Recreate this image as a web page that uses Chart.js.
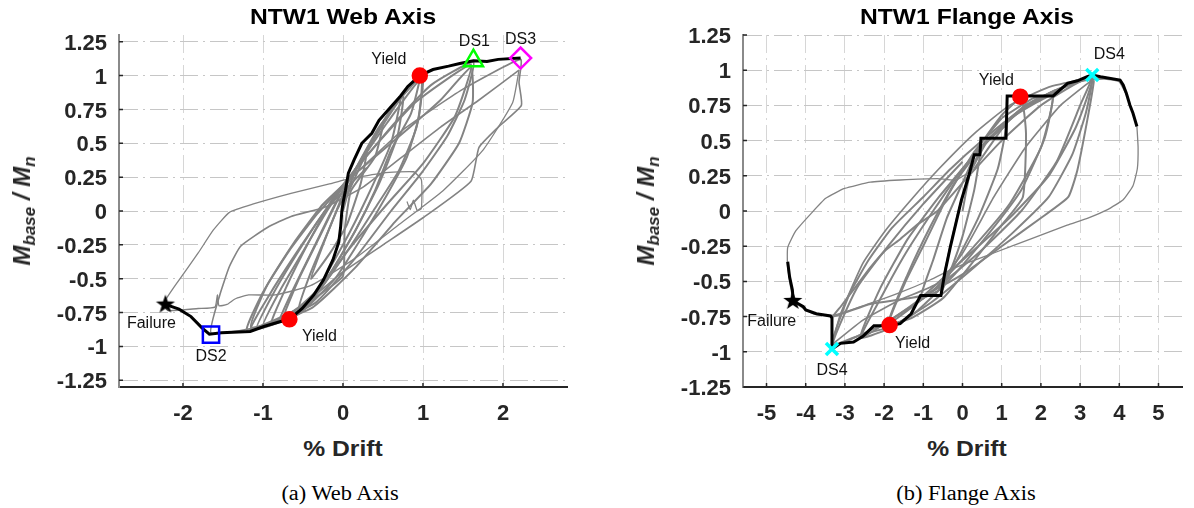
<!DOCTYPE html>
<html lang="en">
<head>
  <meta charset="UTF-8" />
  <title>NTW1 Moment - Drift Hysteresis</title>
  <style>
    body { margin: 0; background: #fff; }
    #figure { position: relative; width: 1194px; height: 508px; overflow: hidden;
      font-family: 'Liberation Sans', Arial, sans-serif; color: #000; }
    #figure canvas { position: absolute; top: 0; }
    .title, .xlabel { position: absolute; font-weight: bold; font-size: 22px; white-space: nowrap;
      transform: translateX(-50%) scaleX(1.12); }
    .title { top: 4px; }
    .xlabel { top: 436px; color: #262626; }
    .ylabel { position: absolute; top: 211px; font-weight: bold; font-style: italic; font-size: 24px;
      line-height: 1; white-space: nowrap; color: #262626;
      transform: translate(-50%, -50%) rotate(-90deg); }
    .ylabel sub { font-size: 17px; vertical-align: -5px; }
    .caption { position: absolute; top: 482px; font-family: 'Liberation Serif', 'Times New Roman', serif;
      font-size: 20px; white-space: nowrap; transform: translateX(-50%) scaleX(1.12); }
  </style>
</head>
<body>
  <div id="figure">
    <canvas id="webChart" width="597" height="430" style="left:0"></canvas>
    <canvas id="flangeChart" width="597" height="430" style="left:597px"></canvas>

    <div class="title" style="left:343px">NTW1 Web Axis</div>
    <div class="title" style="left:967px">NTW1 Flange Axis</div>
    <div class="ylabel" style="left:24px">M<sub>base</sub> / M<sub>n</sub></div>
    <div class="ylabel" style="left:648px">M<sub>base</sub> / M<sub>n</sub></div>
    <div class="xlabel" style="left:343px">% Drift</div>
    <div class="xlabel" style="left:967px">% Drift</div>
    <div class="caption" style="left:340px">(a) Web Axis</div>
    <div class="caption" style="left:966px">(b) Flange Axis</div>
  </div>

  <script src="https://cdn.jsdelivr.net/npm/chart.js@4.4.1/dist/chart.umd.min.js"></script>
  <script>
    // ---- axis ticks ----
    const momentTicks = [-1.25, -1, -0.75, -0.5, -0.25, 0, 0.25, 0.5, 0.75, 1, 1.25];
    const webDriftTicks = [-2, -1, 0, 1, 2];
    const flangeDriftTicks = [-5, -4, -3, -2, -1, 0, 1, 2, 3, 4, 5];

    // ---- web axis: backbone (black) ----
    const webBackbone = [
      [-2.24, -0.686], [-2.05, -0.725], [-1.90, -0.78], [-1.76, -0.865], [-1.67, -0.91],
      [-1.52, -0.90], [-1.16, -0.89], [-0.99, -0.853], [-0.80, -0.82], [-0.67, -0.80],
      [-0.51, -0.72], [-0.365, -0.62], [-0.245, -0.51], [-0.125, -0.36], [-0.053, -0.23],
      [-0.03, -0.12], [-0.014, 0.0], [0.0, 0.06], [0.03, 0.15], [0.067, 0.28], [0.14, 0.38],
      [0.235, 0.50], [0.36, 0.574], [0.45, 0.67], [0.60, 0.77], [0.72, 0.85], [0.81, 0.92],
      [0.96, 1.00], [1.125, 1.045], [1.32, 1.07], [1.46, 1.09], [1.63, 1.11], [1.80, 1.105],
      [1.94, 1.12], [2.22, 1.13]
    ];

    // ---- web axis: test cycles (grey) ----
    const webCycle1 = [[0.00, 0.00], [0.12, 0.25], [0.30, 0.45], [0.22, 0.20], [0.05, -0.10], [-0.15, -0.30],
      [-0.40, -0.50], [-0.25, -0.25], [-0.08, 0.00], [0.05, 0.15]];
    const webCycle2 = [[0.05, 0.15], [0.20, 0.35], [0.50, 0.65], [0.40, 0.40], [0.10, 0.15], [0.02, -0.15],
      [0.00, -0.48], [-0.25, -0.60], [-0.55, -0.72], [-0.40, -0.45], [-0.15, -0.10], [0.05, 0.20]];
    const webCycle3 = [[0.05, 0.20], [0.30, 0.45], [0.75, 0.85], [0.68, 0.55], [0.45, 0.20], [0.15, -0.15],
      [-0.20, -0.50], [-0.50, -0.72], [-0.80, -0.82], [-0.60, -0.55], [-0.35, -0.25], [-0.10, 0.05], [0.10, 0.25]];
    const webCycle4 = [[0.10, 0.25], [0.45, 0.62], [0.96, 1.00], [0.85, 0.72], [0.60, 0.45], [0.40, 0.15],
      [0.15, -0.15], [-0.15, -0.45], [-0.50, -0.72], [-1.00, -0.85], [-0.78, -0.58], [-0.50, -0.30],
      [-0.20, 0.00], [0.12, 0.28]];
    const webCycle5 = [[0.12, 0.28], [0.55, 0.65], [0.98, 0.98], [0.95, 0.70], [0.80, 0.40], [0.55, 0.12],
      [0.25, -0.18], [-0.10, -0.50], [-0.55, -0.76], [-1.08, -0.87], [-0.88, -0.62], [-0.58, -0.32],
      [-0.25, -0.02], [0.15, 0.30]];
    const webCycle6 = [[0.15, 0.30], [0.60, 0.62], [1.10, 0.93], [1.63, 1.10], [1.52, 0.82], [1.30, 0.55],
      [0.98, 0.28], [0.60, 0.00], [0.15, -0.35], [-0.35, -0.68], [-1.20, -0.88], [-1.00, -0.60],
      [-0.68, -0.30], [-0.32, -0.02], [0.10, 0.25]];
    const webCycle7 = [[0.10, 0.25], [0.74, 0.57], [1.22, 0.82], [1.60, 1.06], [1.62, 0.80], [1.45, 0.50],
      [1.10, 0.20], [0.65, -0.08], [0.15, -0.42], [-0.40, -0.72], [-1.15, -0.86], [-0.95, -0.55],
      [-0.62, -0.24], [-0.25, 0.05], [0.20, 0.30]];
    const webCycle8 = [[0.20, 0.30], [0.75, 0.60], [1.50, 0.90], [2.22, 1.12], [2.20, 0.95], [2.23, 0.78],
      [1.94, 0.62], [1.70, 0.47], [1.60, 0.22], [1.00, -0.05], [0.50, -0.25], [0.00, -0.45], [-0.56, -0.72],
      [-1.10, -0.86], [-1.65, -0.90], [-1.54, -0.62], [-1.42, -0.41], [-1.28, -0.26], [-0.94, -0.12],
      [-0.65, -0.04], [-0.22, 0.03], [0.26, 0.18], [0.74, 0.40], [1.22, 0.62], [1.70, 0.82], [2.20, 1.04]];
    const webCycle9 = [[2.20, 1.04], [2.12, 0.80], [1.75, 0.45], [1.25, 0.15], [0.70, -0.10], [0.15, -0.35],
      [-0.40, -0.55], [-0.85, -0.62], [-1.18, -0.62], [-1.35, -0.65], [-1.45, -0.69], [-1.55, -0.70],
      [-1.57, -0.62], [-1.60, -0.71], [-1.81, -0.72], [-2.19, -0.735], [-2.24, -0.68], [-2.05, -0.51],
      [-1.81, -0.31], [-1.62, -0.14], [-1.42, -0.01], [-1.13, 0.05], [-0.65, 0.13], [-0.17, 0.20],
      [0.02, 0.23], [0.50, 0.28], [0.88, 0.29], [0.98, 0.23], [0.98, 0.02], [0.93, 0.00], [0.88, 0.08],
      [0.84, 0.01], [0.80, 0.07]];
    const webCycle10 = [[0.00, 0.05], [0.35, 0.50], [0.72, 0.85], [0.60, 0.50], [0.30, 0.10], [0.00, -0.25],
      [-0.35, -0.60], [-0.75, -0.80], [-0.55, -0.50], [-0.30, -0.20], [-0.05, 0.10], [0.20, 0.35]];
    const webCycle11 = [[0.20, 0.35], [0.60, 0.75], [1.00, 1.00], [0.92, 0.62], [0.70, 0.30], [0.40, 0.02],
      [0.05, -0.30], [-0.35, -0.62], [-0.90, -0.84], [-0.70, -0.55], [-0.42, -0.22], [-0.12, 0.10], [0.25, 0.38]];
    const webCycle12 = [[0.25, 0.38], [0.90, 0.80], [1.60, 1.08], [1.40, 0.70], [1.00, 0.35], [0.55, 0.05],
      [0.05, -0.30], [-0.45, -0.70], [-1.15, -0.87], [-0.90, -0.60], [-0.55, -0.28], [-0.20, 0.02], [0.30, 0.32]];

    // ---- web axis: damage states ----
    const webYield = [[0.96, 1.00], [-0.67, -0.80]];
    const webDS1 = [[1.63, 1.11]];
    const webDS2 = [[-1.65, -0.913]];
    const webDS3 = [[2.22, 1.13]];
    const webFailure = [[-2.22, -0.684]];

    // ---- flange axis: backbone (black) ----
    const flangeBackbone = [
      [-4.46, -0.36], [-4.41, -0.47], [-4.34, -0.56], [-4.32, -0.634], [-4.20, -0.657], [-4.06, -0.68],
      [-4.00, -0.703], [-3.73, -0.73], [-3.37, -0.745], [-3.33, -0.76], [-3.33, -0.95], [-3.33, -0.98],
      [-3.11, -0.94], [-2.78, -0.93], [-2.54, -0.89], [-2.26, -0.815], [-1.88, -0.815], [-1.59, -0.80],
      [-1.31, -0.73], [-1.07, -0.60], [-0.55, -0.60], [-0.455, -0.445], [-0.31, -0.255], [-0.17, -0.09],
      [-0.03, 0.076], [0.16, 0.25], [0.30, 0.40], [0.445, 0.40], [0.47, 0.516], [1.11, 0.516],
      [1.14, 0.817], [1.49, 0.817], [2.31, 0.817], [2.68, 0.907], [2.93, 0.925], [3.18, 0.954],
      [3.31, 0.966], [3.52, 0.954], [4.02, 0.93], [4.10, 0.895], [4.18, 0.836], [4.27, 0.753],
      [4.35, 0.694], [4.45, 0.60]
    ];

    // ---- flange axis: test cycles (grey) ----
    const flangeCycle1 = [[0.00, 0.00], [0.20, 0.28], [0.45, 0.42], [0.30, 0.15], [0.00, -0.18], [-0.30, -0.42],
      [-0.55, -0.58], [-0.35, -0.30], [-0.10, 0.00], [0.15, 0.25]];
    const flangeCycle2 = [[0.15, 0.25], [0.60, 0.48], [1.10, 0.60], [0.90, 0.30], [0.40, -0.05], [-0.20, -0.38],
      [-0.60, -0.56], [-1.07, -0.62], [-0.75, -0.35], [-0.40, -0.05], [0.00, 0.20], [0.40, 0.45]];
    const flangeCycle3 = [[0.40, 0.45], [1.00, 0.68], [1.50, 0.80], [1.62, 0.55], [1.54, 0.10], [1.00, -0.10],
      [0.30, -0.35], [-0.50, -0.62], [-1.30, -0.76], [-1.88, -0.80], [-1.45, -0.50], [-0.95, -0.22],
      [-0.35, 0.12], [0.30, 0.42], [1.00, 0.66]];
    const flangeCycle4 = [[1.00, 0.66], [1.80, 0.80], [2.30, 0.82], [2.10, 0.52], [1.50, 0.15], [0.70, -0.15],
      [-0.20, -0.45], [-1.20, -0.72], [-2.00, -0.85], [-2.60, -0.90], [-2.05, -0.60], [-1.45, -0.30],
      [-0.75, 0.00], [0.00, 0.30], [0.80, 0.55], [1.60, 0.75], [2.40, 0.86]];
    const flangeCycle5 = [[2.40, 0.86], [2.90, 0.91], [3.32, 0.96], [3.15, 0.70], [2.80, 0.40], [2.20, 0.10],
      [1.30, -0.15], [0.30, -0.40], [-0.80, -0.65], [-1.80, -0.82], [-2.60, -0.88], [-3.33, -0.95],
      [-2.90, -0.60], [-2.40, -0.35], [-1.80, -0.12], [-1.00, 0.10], [-0.30, 0.30], [0.50, 0.50],
      [1.40, 0.70], [2.30, 0.85], [3.30, 0.95]];
    const flangeCycle6 = [[3.30, 0.95], [3.35, 0.92], [3.18, 0.64], [2.93, 0.29], [2.70, 0.10], [2.00, -0.05],
      [1.00, -0.25], [0.00, -0.45], [-1.00, -0.60], [-2.35, -0.66], [-3.30, -0.75], [-3.11, -0.68],
      [-2.73, -0.54], [-2.35, -0.40], [-1.97, -0.28], [-1.59, -0.20], [-1.12, -0.09], [-0.64, 0.00],
      [0.00, 0.20], [1.00, 0.50], [2.00, 0.75], [3.00, 0.92], [3.60, 0.94], [4.00, 0.92], [4.20, 0.82]];
    const flangeCycle7 = [[-3.33, -0.95], [-2.54, -0.775], [-1.59, -0.63], [-0.64, -0.515], [0.00, -0.30],
      [0.80, 0.10], [1.60, 0.45], [2.50, 0.75], [3.30, 0.93]];
    const flangeCycle8 = [[-3.33, -0.95], [-3.11, -0.73], [-2.54, -0.37], [-1.97, -0.14], [-1.31, 0.08],
      [-0.60, 0.30], [0.30, 0.55], [1.20, 0.75], [2.20, 0.88], [3.30, 0.95]];
    const flangeCycle9 = [[4.45, 0.60], [4.48, 0.45], [4.46, 0.30], [4.35, 0.18], [4.10, 0.08], [3.70, 0.01],
      [3.20, -0.05], [2.67, -0.10], [1.73, -0.20], [0.78, -0.30], [-0.17, -0.40], [-0.83, -0.49],
      [-1.60, -0.58], [-2.40, -0.66], [-3.30, -0.74], [-3.80, -0.73], [-4.30, -0.64], [-4.46, -0.40],
      [-4.46, -0.26], [-4.25, -0.14], [-3.87, -0.02], [-3.49, 0.09], [-3.01, 0.16], [-2.35, 0.205],
      [-1.59, 0.22], [-0.64, 0.23], [-0.17, 0.22], [0.30, 0.30]];
    const flangeCycle10 = [[0.30, 0.30], [1.20, 0.65], [2.30, 0.82], [2.00, 0.45], [1.20, 0.05], [0.30, -0.25],
      [-0.70, -0.55], [-1.90, -0.80], [-1.40, -0.45], [-0.80, -0.10], [-0.20, 0.20], [0.60, 0.50]];
    const flangeCycle11 = [[0.60, 0.50], [1.80, 0.78], [3.30, 0.95], [2.90, 0.60], [2.20, 0.25], [1.20, -0.05],
      [0.00, -0.35], [-1.20, -0.65], [-2.60, -0.90], [-2.10, -0.55], [-1.40, -0.20], [-0.60, 0.10], [0.30, 0.40]];
    const flangeCycle12 = [[0.30, 0.40], [1.50, 0.72], [3.30, 0.96], [3.00, 0.75], [2.40, 0.35], [1.50, 0.00],
      [0.40, -0.30], [-0.90, -0.60], [-2.00, -0.80], [-3.30, -0.95], [-2.70, -0.55], [-1.90, -0.25],
      [-1.00, 0.05], [0.00, 0.35]];

    // ---- flange axis: damage states ----
    const flangeYield = [[1.475, 0.812], [-1.86, -0.81]];
    const flangeDS4 = [[3.31, 0.966], [-3.33, -0.98]];
    const flangeFailure = [[-4.33, -0.632]];

    // ---------------------------------------------------------------
    const toXY = pts => pts.map(([x, y]) => ({ x, y }));

    // filled five point star used as a point style
    function starImage(r) {
      const c = document.createElement('canvas');
      const s = Math.ceil(r * 2 + 2);
      c.width = s; c.height = s;
      const g = c.getContext('2d');
      g.translate(s / 2, s / 2 + r * 0.1);
      g.beginPath();
      for (let i = 0; i < 10; i++) {
        const rad = i % 2 ? r * 0.4 : r;
        const a = -Math.PI / 2 + i * Math.PI / 5;
        g.lineTo(rad * Math.cos(a), rad * Math.sin(a));
      }
      g.closePath();
      g.fillStyle = '#000';
      g.fill();
      return c;
    }
    const star = starImage(10);

    function greyLine(pts, width) {
      return { data: toXY(pts), showLine: true, borderColor: '#838383', borderWidth: width,
        pointRadius: 0, tension: 0.15, order: 3 };
    }
    function marker(pts, style, color, radius, width) {
      return { data: toXY(pts), showLine: false, pointStyle: style, pointRadius: radius,
        borderColor: color, backgroundColor: style === 'circle' ? color : 'rgba(0,0,0,0)',
        pointBorderWidth: width, order: 1 };
    }

    // short inward tick marks, like the source plots
    const insideTicks = {
      id: 'insideTicks',
      afterDatasetsDraw(chart) {
        const { ctx, chartArea, scales } = chart;
        ctx.save();
        ctx.strokeStyle = '#262626';
        ctx.lineWidth = 1.5;
        ctx.beginPath();
        scales.y.ticks.forEach(t => {
          const y = scales.y.getPixelForValue(t.value);
          ctx.moveTo(chartArea.left, y); ctx.lineTo(chartArea.left + 4, y);
        });
        scales.x.ticks.forEach(t => {
          const x = scales.x.getPixelForValue(t.value);
          ctx.moveTo(x, chartArea.bottom); ctx.lineTo(x, chartArea.bottom - 4);
        });
        ctx.stroke();
        ctx.restore();
      }
    };

    // text next to the damage-state markers
    const markerLabels = {
      id: 'markerLabels',
      afterDatasetsDraw(chart, args, opts) {
        const { ctx, scales } = chart;
        ctx.save();
        ctx.font = '16px "Liberation Sans", Arial, sans-serif';
        ctx.fillStyle = '#111';
        ctx.textAlign = 'center';
        ctx.textBaseline = 'middle';
        (opts.items || []).forEach(it => {
          const x = scales.x.getPixelForValue(it.at[0]) + it.dx;
          const y = scales.y.getPixelForValue(it.at[1]) + it.dy;
          ctx.fillText(it.text, x, y);
        });
        ctx.restore();
      }
    };

    const tickFont = { family: '"Liberation Sans", Arial, sans-serif', size: 22, weight: 'bold' };
    const gridDash = [18, 5, 2, 5];

    function makeChart(id, cfg) {
      return new Chart(document.getElementById(id), {
        type: 'scatter',
        data: { datasets: cfg.datasets },
        options: {
          responsive: false,
          animation: false,
          devicePixelRatio: 1,
          layout: { padding: { left: 0, right: cfg.padRight, top: 35, bottom: 0 } },
          plugins: {
            legend: { display: false },
            tooltip: { enabled: false },
            markerLabels: { items: cfg.labels }
          },
          scales: {
            x: {
              type: 'linear', min: cfg.xMin, max: cfg.xMax,
              afterBuildTicks: axis => { axis.ticks = cfg.xTicks.map(v => ({ value: v })); },
              afterFit: axis => { axis.height = 43; },
              ticks: { font: tickFont, color: '#262626', padding: 14, autoSkip: false, maxRotation: 0,
                callback: v => String(v) },
              grid: { color: '#d6d6d6', lineWidth: 1, drawTicks: false },
              border: { display: true, color: '#262626', width: 2, dash: gridDash }
            },
            y: {
              type: 'linear', min: cfg.yMin, max: cfg.yMax,
              afterBuildTicks: axis => { axis.ticks = momentTicks.map(v => ({ value: v })); },
              afterFit: axis => { axis.width = cfg.yWidth; },
              ticks: { font: tickFont, color: '#262626', padding: 12, labelOffset: 2,
                callback: v => String(v) },
              grid: { color: '#c6c6c6', lineWidth: 1, drawTicks: false },
              border: { display: true, color: '#8a8a8a', width: 2, dash: gridDash }
            }
          }
        },
        plugins: [insideTicks, markerLabels]
      });
    }

    // (a) Web axis
    makeChart('webChart', {
      xMin: -2.8, xMax: 2.8, yMin: -1.3, yMax: 1.3, xTicks: webDriftTicks,
      yWidth: 119, padRight: 30,
      datasets: [
        marker(webFailure, star, '#000', 10, 1),
        marker(webYield, 'circle', '#ff0000', 7.5, 1.5),
        marker(webDS1, 'triangle', '#00ff00', 11, 2.5),
        marker(webDS2, 'rect', '#0000ff', 11.5, 2.5),
        marker(webDS3, 'rectRot', '#ff00ff', 10.5, 2.5),
        { data: toXY(webBackbone), showLine: true, borderColor: '#000', borderWidth: 3,
          pointRadius: 0, tension: 0, order: 2 },
        greyLine(webCycle1, 2), greyLine(webCycle2, 2), greyLine(webCycle3, 2),
        greyLine(webCycle4, 2), greyLine(webCycle5, 2), greyLine(webCycle6, 2),
        greyLine(webCycle7, 2), greyLine(webCycle10, 2), greyLine(webCycle11, 2),
        greyLine(webCycle12, 2), greyLine(webCycle8, 1.6), greyLine(webCycle9, 1.3)
      ],
      labels: [
        { text: 'Yield', at: webYield[0], dx: -31, dy: -16 },
        { text: 'DS1', at: webDS1[0], dx: 1, dy: -19 },
        { text: 'DS3', at: webDS3[0], dx: 0, dy: -18 },
        { text: 'Failure', at: webFailure[0], dx: -14, dy: 20 },
        { text: 'DS2', at: webDS2[0], dx: 0, dy: 22 },
        { text: 'Yield', at: webYield[1], dx: 30, dy: 17 }
      ]
    });

    // (b) Flange axis
    makeChart('flangeChart', {
      xMin: -5.6, xMax: 5.6, yMin: -1.25, yMax: 1.25, xTicks: flangeDriftTicks,
      yWidth: 146, padRight: 3,
      datasets: [
        marker(flangeFailure, star, '#000', 10, 1),
        marker(flangeYield, 'circle', '#ff0000', 7.5, 1.5),
        marker(flangeDS4, 'crossRot', '#00ffff', 8.5, 3.5),
        { data: toXY(flangeBackbone), showLine: true, borderColor: '#000', borderWidth: 3,
          pointRadius: 0, tension: 0, order: 2 },
        greyLine(flangeCycle1, 2), greyLine(flangeCycle2, 2), greyLine(flangeCycle3, 2),
        greyLine(flangeCycle4, 2), greyLine(flangeCycle5, 2), greyLine(flangeCycle6, 2),
        greyLine(flangeCycle10, 2), greyLine(flangeCycle11, 2), greyLine(flangeCycle12, 2),
        greyLine(flangeCycle7, 1.7), greyLine(flangeCycle8, 1.7), greyLine(flangeCycle9, 1.3)
      ],
      labels: [
        { text: 'Yield', at: flangeYield[0], dx: -24, dy: -16 },
        { text: 'DS4', at: flangeDS4[0], dx: 17, dy: -20 },
        { text: 'Failure', at: flangeFailure[0], dx: -21, dy: 22 },
        { text: 'DS4', at: flangeDS4[1], dx: 0, dy: 22 },
        { text: 'Yield', at: flangeYield[1], dx: 23, dy: 19 }
      ]
    });
  </script>
</body>
</html>
